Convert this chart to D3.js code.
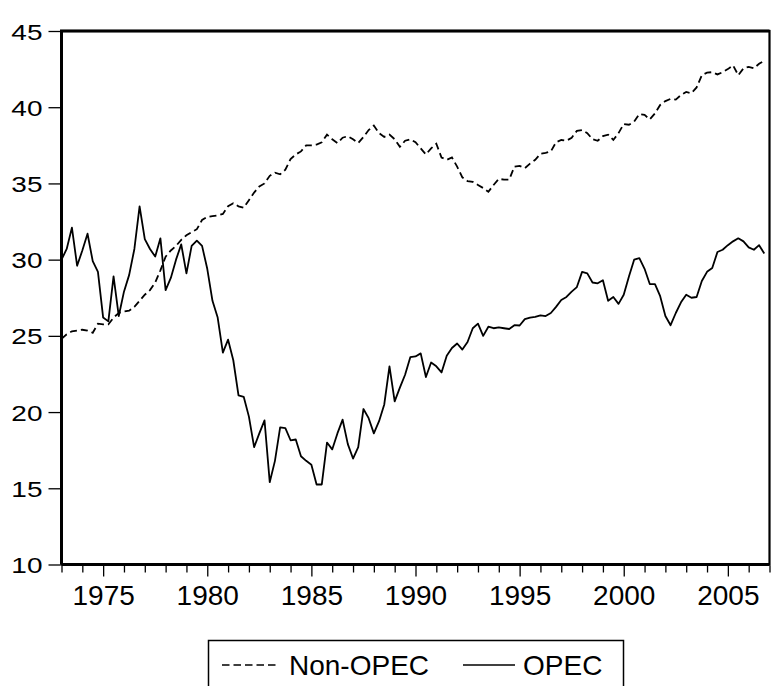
<!DOCTYPE html>
<html>
<head>
<meta charset="utf-8">
<script src="https://cdn.jsdelivr.net/npm/d3@7"></script>
<style>
  body { margin: 0; background: #fff; }
  svg { display: block; font-family: "Liberation Sans", Arial, sans-serif; }
</style>
</head>
<body>
<div id="chart"></div>
<script>
// quarterly data, 1973Q1 .. 2006Q4
const startYear = 1973;
const nonOpec = [
  24.8, 25.1, 25.3, 25.35,   25.4, 25.35, 25.2, 25.8,
  25.75, 25.75, 26.2, 26.5,  26.6, 26.65, 26.9, 27.3,
  27.7, 28.0, 28.5, 29.3,    30.2, 30.6, 30.9, 31.3,
  31.6, 31.8, 32.0, 32.6,    32.8, 32.85, 32.9, 33.0,
  33.5, 33.7, 33.5, 33.4,    33.9, 34.4, 34.8, 35.0,
  35.5, 35.7, 35.6, 35.9,    36.6, 36.9, 37.1, 37.5,
  37.5, 37.55, 37.7, 38.2,   37.9, 37.65, 38.0, 38.1,
  37.9, 37.65, 38.05, 38.5,  38.8, 38.3, 38.05, 38.2,
  37.9, 37.4, 37.8, 37.9,    37.7, 37.3, 36.9, 37.3,
  37.6, 36.7, 36.55, 36.7,   36.1, 35.4, 35.15, 35.1,
  34.9, 34.7, 34.45, 34.9,   35.3, 35.25, 35.25, 36.1,
  36.15, 36.0, 36.3, 36.55,  36.95, 37.0, 37.1, 37.7,
  37.85, 37.8, 38.0, 38.45,  38.5, 38.3, 37.9, 37.8,
  38.1, 38.2, 37.85, 38.3,   38.9, 38.85, 39.05, 39.55,
  39.5, 39.2, 39.6, 40.15,   40.4, 40.55, 40.5, 40.8,
  41.0, 40.92, 41.3, 42.1,   42.27, 42.3, 42.15, 42.3,
  42.5, 42.75, 42.1, 42.55,  42.65, 42.55, 42.85, 43.05
];
const opec = [
  30.0, 30.7, 32.1, 29.6,    30.6, 31.7, 29.9, 29.2,
  26.2, 25.95, 28.9, 26.3,   27.9, 29.0, 30.7, 33.5,
  31.35, 30.7, 30.2, 31.4,   28.0, 28.8, 30.0, 31.0,
  29.1, 30.9, 31.25, 30.9,   29.4, 27.3, 26.2, 23.9,
  24.75, 23.4, 21.1, 21.0,   19.7, 17.7, 18.6, 19.45,
  15.4, 16.8, 19.0, 18.95,   18.15, 18.2, 17.1, 16.8,
  16.55, 15.25, 15.25, 18.0, 17.55, 18.6, 19.5, 17.9,
  16.95, 17.7, 20.2, 19.6,   18.6, 19.4, 20.5, 23.0,
  20.7, 21.6, 22.45, 23.6,   23.65, 23.85, 22.3, 23.25,
  23.0, 22.6, 23.7, 24.2,    24.5, 24.1, 24.6, 25.5,
  25.8, 25.0, 25.6, 25.5,    25.55, 25.5, 25.45, 25.7,
  25.68, 26.1, 26.2, 26.25,  26.35, 26.3, 26.5, 26.9,
  27.35, 27.55, 27.9, 28.2,  29.2, 29.1, 28.5, 28.45,
  28.65, 27.3, 27.55, 27.1,  27.7, 28.9, 30.0, 30.1,
  29.4, 28.4, 28.4, 27.6,    26.3, 25.7, 26.5, 27.2,
  27.7, 27.5, 27.55, 28.6,   29.2, 29.45, 30.5, 30.65,
  30.95, 31.2, 31.4, 31.2,   30.8, 30.65, 30.95, 30.4
];
const yTicks = [10, 15, 20, 25, 30, 35, 40, 45];
const xYears = d3.range(1973, 2008);
const seriesNames = ["Non-OPEC", "OPEC"];

const width = 771, height = 686;
const plotLeft = 61.5, plotRight = 769.5, plotTop = 31, plotBottom = 564.5;

const svg = d3.select("#chart").append("svg")
  .attr("width", width)
  .attr("height", height);

const x = d3.scaleLinear().domain([1973, 2007]).range([plotLeft, plotRight]);
const y = d3.scaleLinear().domain([10, 45]).range([plotBottom, plotTop]);

const line = d3.line()
  .x((d, i) => x(startYear + i / 4))
  .y(d => y(d));

//Lines
svg.append("path")
  .datum(nonOpec)
  .attr("d", line)
  .attr("fill", "none")
  .attr("stroke", "#000")
  .attr("stroke-width", 1.8)
  .attr("stroke-dasharray", "7,4");

svg.append("path")
  .datum(opec)
  .attr("d", line)
  .attr("fill", "none")
  .attr("stroke", "#000")
  .attr("stroke-width", 1.8)
  .attr("stroke-linejoin", "round");

//Frame
svg.append("rect")
  .attr("x", plotLeft)
  .attr("y", plotTop)
  .attr("width", plotRight - plotLeft)
  .attr("height", plotBottom - plotTop)
  .attr("fill", "none")
  .attr("stroke", "#000")
  .attr("stroke-width", 2.2);
svg.append("path")
  .attr("d", `M${plotLeft},${plotBottom}V${plotTop}H${plotRight}M${plotLeft},${plotBottom}H${plotRight}`)
  .attr("fill", "none")
  .attr("stroke", "#000")
  .attr("stroke-width", 3);

//Y axis
const yAxis = d3.axisLeft(y).tickValues(yTicks).tickSize(12).tickPadding(6);
const gy = svg.append("g")
  .attr("transform", `translate(${plotLeft - 1},0)`)
  .call(yAxis);
gy.select(".domain").remove();
gy.selectAll(".tick line").attr("stroke-width", 1.3);
gy.selectAll(".tick text")
  .attr("font-size", 28)
  .attr("font-family", "Liberation Sans, Arial, sans-serif")
  .attr("fill", "#000")
  .attr("dy", "0.36em")
  .attr("transform", "scale(1,0.8)");

//X axis
const xAxis = d3.axisBottom(x)
  .tickValues(xYears)
  .tickSize(0)
  .tickPadding(21)
  .tickFormat(d => d % 5 === 0 ? d : "");
const gx = svg.append("g")
  .attr("transform", `translate(0,${plotBottom})`)
  .call(xAxis);
gx.select(".domain").remove();
gx.selectAll(".tick line")
  .attr("y1", 1)
  .attr("y2", d => d % 5 === 0 ? 12 : 8)
  .attr("stroke-width", 1.3);
gx.selectAll(".tick text")
  .attr("font-size", 28)
  .attr("font-family", "Liberation Sans, Arial, sans-serif")
  .attr("fill", "#000");

//Legend
const legend = svg.append("g").attr("class", "legend");
legend.append("rect")
  .attr("x", 208.5)
  .attr("y", 640.5)
  .attr("width", 415)
  .attr("height", 60)
  .attr("fill", "#fff")
  .attr("stroke", "#000")
  .attr("stroke-width", 1.5);

const legendItems = [
  { name: seriesNames[0], x1: 222, x2: 279, tx: 289, dash: "7.5,4" },
  { name: seriesNames[1], x1: 463, x2: 515, tx: 523, dash: null }
];
legendItems.forEach(it => {
  legend.append("line")
    .attr("x1", it.x1).attr("x2", it.x2)
    .attr("y1", 665).attr("y2", 665)
    .attr("stroke", "#000")
    .attr("stroke-width", 1.4)
    .attr("stroke-dasharray", it.dash);
  legend.append("text")
    .attr("x", it.tx)
    .attr("y", 675)
    .attr("font-size", 28)
    .attr("fill", "#000")
    .text(it.name);
});
</script>
</body>
</html>
